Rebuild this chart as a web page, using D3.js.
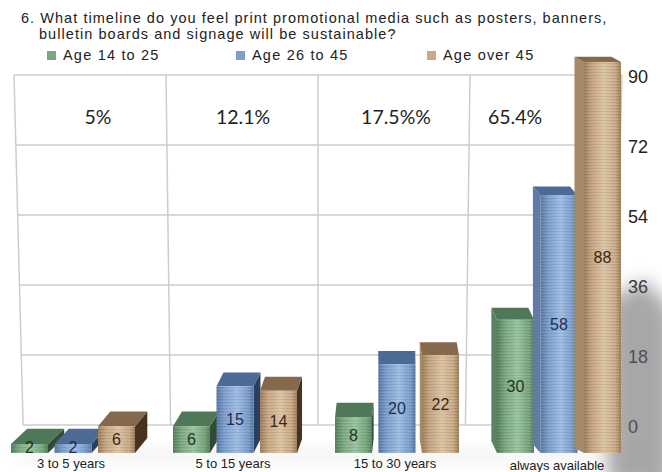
<!DOCTYPE html>
<html>
<head>
<meta charset="utf-8">
<script src="https://cdn.jsdelivr.net/npm/d3@7"></script>
<style>
  html, body { margin: 0; padding: 0; background: #fff; }
  svg { display: block; }
</style>
</head>
<body>
<svg id="chart" width="662" height="472"></svg>
<script>
// Survey question 6: expected lifetime of print promotional media, by age group
const categories = ["3 to 5 years", "5 to 15 years", "15 to 30 years", "always available"];
const seriesNames = ["Age 14 to 25", "Age 26 to 45", "Age over 45"];
const age14to25 = [2, 6, 8, 30];
const age26to45 = [2, 15, 20, 58];
const ageOver45 = [6, 14, 22, 88];
const shareLabels = ["5%", "12.1%", "17.5%%", "65.4%"];
const yTicks = [0, 18, 36, 54, 72, 90];
const title = [
  "6. What timeline do you feel print promotional media such as posters, banners,",
  "bulletin boards and signage will be sustainable?"
];

const seriesValues = [age14to25, age26to45, ageOver45];
const palette = [
  { light: "#9dc6a2", mid: "#7aa880", dark: "#557f5c", top: "#4f7858", side: "#2f4a35", sideLit: "#5a8161", text: "#1d3322" },
  { light: "#a2c0e6", mid: "#7e9fcd", dark: "#5878a2", top: "#4c6a96", side: "#2b3f63", sideLit: "#5f7ba6", text: "#1c2c52" },
  { light: "#dec6a6", mid: "#c8a985", dark: "#9d7d5a", top: "#86684c", side: "#46321f", sideLit: "#a68966", text: "#3a2814" }
];

const svg = d3.select("#chart");
const defs = svg.append("defs");

// brushed-metal front faces: horizontal shading + fine streaks
palette.forEach((p, i) => {
  const g = defs.append("linearGradient").attr("id", "face" + i)
    .attr("x1", "0%").attr("x2", "100%").attr("y1", "0%").attr("y2", "0%");
  g.append("stop").attr("offset", "0%").attr("stop-color", p.dark);
  g.append("stop").attr("offset", "22%").attr("stop-color", p.mid);
  g.append("stop").attr("offset", "55%").attr("stop-color", p.light);
  g.append("stop").attr("offset", "85%").attr("stop-color", p.mid);
  g.append("stop").attr("offset", "100%").attr("stop-color", p.dark);
});
const streak = defs.append("pattern").attr("id", "streaks")
  .attr("width", 40).attr("height", 3).attr("patternUnits", "userSpaceOnUse");
streak.append("rect").attr("x", 0).attr("y", 0).attr("width", 40).attr("height", 1)
  .attr("fill", "#000").attr("opacity", 0.07);
streak.append("rect").attr("x", 8).attr("y", 2).attr("width", 22).attr("height", 1)
  .attr("fill", "#fff").attr("opacity", 0.08);
const blur = defs.append("filter").attr("id", "soft").attr("x", "-50%").attr("y", "-50%")
  .attr("width", "200%").attr("height", "200%");
blur.append("feGaussianBlur").attr("stdDeviation", 9);

// ---- title and legend ----
const titleG = svg.append("g").attr("font-family", "'Liberation Sans', Arial, sans-serif")
  .attr("font-size", 14.5).attr("letter-spacing", 1.05).attr("fill", "#222");
titleG.append("text").attr("x", 21).attr("y", 23).text(title[0]);
titleG.append("text").attr("x", 39).attr("y", 39).text(title[1]);

const legendX = [47, 236, 427];
const legend = svg.append("g").attr("font-family", "'Liberation Sans', Arial, sans-serif")
  .attr("font-size", 14.5).attr("letter-spacing", 1.2).attr("fill", "#222");
seriesNames.forEach((name, i) => {
  legend.append("rect").attr("x", legendX[i]).attr("y", 51).attr("width", 9).attr("height", 9)
    .attr("fill", palette[i].mid);
  legend.append("text").attr("x", legendX[i] + 16).attr("y", 60).text(name);
});

// ---- back wall (value scale for the grid and the tick labels) ----
const wallTop = 75, wallBottom = 425;
const yWall = d3.scaleLinear().domain([0, 90]).range([wallBottom, wallTop]);
const colEdges = d3.range(5).map(i => 14 + i * 152);
const vanishX = 318;
const shrink = 0.97; // wall narrows slightly toward the floor
const edgeAt = (xTop, y) => {
  const t = (y - wallTop) / (wallBottom - wallTop);
  const xBot = vanishX + (xTop - vanishX) * shrink;
  return xTop + (xBot - xTop) * t;
};
const grid = svg.append("g").attr("stroke", "#cdcdcd").attr("stroke-width", 1.5).attr("fill", "none");
yTicks.forEach(v => {
  const y = yWall(v);
  grid.append("line")
    .attr("x1", edgeAt(colEdges[0], y)).attr("x2", edgeAt(colEdges[4], y))
    .attr("y1", y).attr("y2", y);
});
colEdges.forEach(x => {
  grid.append("line").attr("x1", x).attr("y1", wallTop)
    .attr("x2", edgeAt(x, wallBottom)).attr("y2", wallBottom);
});

// share of respondents per timeline, written on the wall
svg.append("g").attr("font-family", "Lato, 'Open Sans', sans-serif").attr("font-size", 19.5)
  .attr("fill", "#222").attr("text-anchor", "middle")
  .selectAll("text").data(shareLabels).join("text")
  .attr("x", (d, i) => [98, 243, 396, 515][i])
  .attr("y", 124)
  .text(d => d);

// right-hand value axis
const axis = d3.axisRight(yWall).tickValues(yTicks).tickSize(0).tickPadding(0);
const axisG = svg.append("g").attr("transform", "translate(628,2)").call(axis);
axisG.select(".domain").remove();
axisG.selectAll("text").attr("font-family", "'Liberation Sans', Arial, sans-serif")
  .attr("font-size", 18).attr("fill", "#222");

// floor shadow cast by the tallest bars
svg.append("path")
  .attr("d", "M608,300 L645,280 L672,310 L672,490 L608,490 Z")
  .attr("fill", "#6e6e6e").attr("opacity", 0.6).attr("filter", "url(#soft)");
svg.append("path")
  .attr("d", "M20,448 L640,448 L640,462 L20,462 Z")
  .attr("fill", "#9a9a9a").attr("opacity", 0.12).attr("filter", "url(#soft)");

// ---- bars ----
const x0 = d3.scaleBand().domain(categories).range([-8, 640]);
const x1 = d3.scaleBand().domain(seriesNames).range([-62, 62]).paddingInner(0.15);
const yBar = d3.scaleLinear().domain([0, 90]).range([453, 53]);
const baseY = yBar(0);

const bars = [];
categories.forEach((c, ci) => {
  seriesNames.forEach((s, si) => {
    const cx = x0(c) + x0.bandwidth() / 2;
    const left = cx + x1(s);
    bars.push({ cat: c, ci, si, v: seriesValues[si][ci], x: left, w: x1.bandwidth() });
  });
});

const barG = svg.append("g");
const pt = a => a.map(p => p.join(",")).join(" ");
bars.forEach(b => {
  const p = palette[b.si];
  const xa = b.x, xb = b.x + b.w;
  const yt = yBar(b.v), yb = baseY;
  const mid = (xa + xb) / 2;
  const dx = (390 - mid) * 0.045;
  const dy = -(5 + 10 * (yt - 60) / 370);
  const g = barG.append("g");
  // side face toward the viewer's eye point
  if (dx >= 0) {
    g.append("polygon").attr("points", pt([[xb, yt], [xb + dx, yt + dy], [xb + dx, yb + dy], [xb, yb]]))
      .attr("fill", p.side);
  } else {
    g.append("polygon").attr("points", pt([[xa, yt], [xa + dx, yt + dy], [xa + dx, yb + dy], [xa, yb]]))
      .attr("fill", p.sideLit);
  }
  // top face
  g.append("polygon").attr("points", pt([[xa, yt], [xb, yt], [xb + dx, yt + dy], [xa + dx, yt + dy]]))
    .attr("fill", p.top);
  // front face
  g.append("rect").attr("x", xa).attr("y", yt).attr("width", b.w).attr("height", yb - yt)
    .attr("fill", `url(#face${b.si})`);
  g.append("rect").attr("x", xa).attr("y", yt).attr("width", b.w).attr("height", yb - yt)
    .attr("fill", "url(#streaks)");
  // value label on the front face
  g.append("text").attr("x", mid).attr("y", (yt + yb) / 2 - (b.v < 4 ? 1 : 0))
    .attr("text-anchor", "middle").attr("dominant-baseline", "central")
    .attr("font-family", "'Liberation Sans', Arial, sans-serif").attr("font-size", 16)
    .attr("fill", p.text).text(b.v);
});

// category labels along the floor
svg.append("g").attr("font-family", "'Liberation Sans', Arial, sans-serif").attr("font-size", 13)
  .attr("fill", "#222").attr("text-anchor", "middle")
  .selectAll("text").data(categories).join("text")
  .attr("x", d => x0(d) + x0.bandwidth() / 2 - 2)
  .attr("y", (d, i) => 468 + (i === 3 ? 2 : 0))
  .text(d => d);
</script>
</body>
</html>
